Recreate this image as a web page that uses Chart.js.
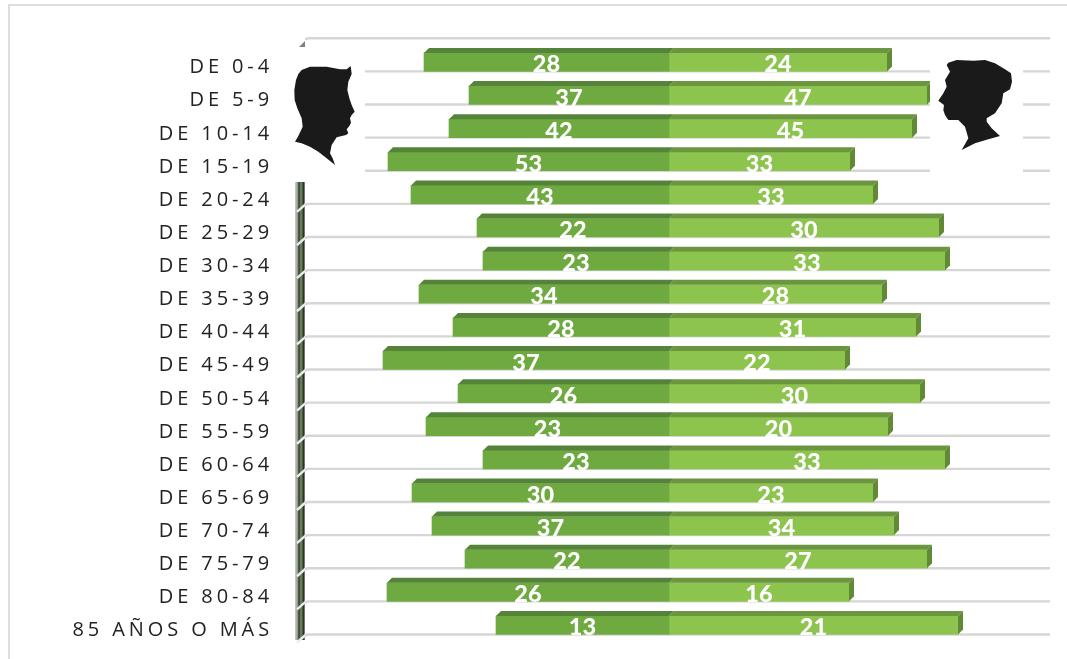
<!DOCTYPE html>
<html>
<head>
<meta charset="utf-8">
<style>
  html, body { margin: 0; padding: 0; background: #fff; }
  canvas { display: block; }
</style>
<script src="https://cdn.jsdelivr.net/npm/chart.js@4/dist/chart.umd.min.js"></script>
</head>
<body>
<canvas id="piramide" width="1067" height="659"></canvas>
<script>
var categorias = ['DE 0-4', 'DE 5-9', 'DE 10-14', 'DE 15-19', 'DE 20-24', 'DE 25-29', 'DE 30-34', 'DE 35-39', 'DE 40-44',
    'DE 45-49', 'DE 50-54', 'DE 55-59', 'DE 60-64', 'DE 65-69', 'DE 70-74', 'DE 75-79', 'DE 80-84', '85 AÑOS O MÁS'];

// largo de cada barra tal como se ve en el dibujo (no coincide con las etiquetas)
var hombres = [49, 40, 44, 56.2, 51.6, 38.4, 37.2, 50, 43.2, 57.2, 42.2, 48.6, 37.2, 51.4, 47.4, 40.8, 56.4, 34.6];
var mujeres = [43.6, 51.6, 48.6, 36.2, 40.8, 54, 55.2, 42.6, 49.4, 35.2, 50.2, 43.8, 55.2, 40.8, 45, 51.6, 36, 57.8];

// numeros escritos sobre las barras
var etiquetasHombres = [28, 37, 42, 53, 43, 22, 23, 34, 28, 37, 26, 23, 23, 30, 37, 22, 26, 13];
var etiquetasMujeres = [24, 47, 45, 33, 33, 30, 33, 28, 31, 22, 30, 20, 33, 23, 34, 27, 16, 21];

// siluetas, calcadas del original (zoom x3)
var siluetaHombre = [[35,60],[60,50],[110,50],[150,58],[170,58],[182,48],[185,72],[175,95],[172,120],[178,145],[185,165],[194,185],
    [185,195],[180,205],[183,218],[178,228],[170,238],[175,250],[168,255],[140,262],[125,285],[120,310],[128,325],[135,345],[110,325],
    [85,305],[60,290],[35,280],[15,275],[25,258],[38,230],[35,205],[22,175],[14,150],[13,120],[18,90],[25,72]];
var siluetaMujer = [[55,38],[80,30],[130,32],[165,30],[195,40],[225,58],[243,70],[246,95],[240,118],[220,130],[215,160],[195,190],
    [170,205],[170,215],[185,235],[210,258],[175,268],[135,280],[95,300],[115,265],[105,230],[85,210],[55,210],[45,195],[40,180],
    [42,165],[25,152],[40,130],[50,110],[45,90],[60,65],[50,45]];

var FONDO = 5; // profundidad del efecto 3D

function poligono(ctx, puntos, color) {
    ctx.fillStyle = color;
    ctx.beginPath();
    puntos.forEach(function (p, i) {
        if (i === 0) ctx.moveTo(p[0], p[1]); else ctx.lineTo(p[0], p[1]);
    });
    ctx.closePath();
    ctx.fill();
}

function silueta(ctx, puntos, x, y) {
    ctx.save();
    ctx.translate(x, y);
    ctx.scale(1 / 3, 1 / 3);
    poligono(ctx, puntos, '#1b1a1a');
    ctx.restore();
}

function pieDeBarra(chart, i) {
    var el = chart.getDatasetMeta(0).data[i];
    return el.y + el.height / 2;
}

var decoracion = {
    id: 'decoracion',
    beforeDraw: function (chart) {
        var ctx = chart.ctx;
        ctx.save();
        ctx.fillStyle = '#dedede';
        ctx.fillRect(8, 4, 1059, 2);
        ctx.fillRect(8, 4, 2, 655);
        ctx.restore();
        ctx.letterSpacing = '3.9px';
    },
    beforeDatasetsDraw: function (chart) {
        var ctx = chart.ctx, area = chart.chartArea;
        ctx.letterSpacing = '0px';
        ctx.save();
        var alto = chart.getDatasetMeta(0).data[1].y - chart.getDatasetMeta(0).data[0].y;
        var pisos = [pieDeBarra(chart, 0) - alto].concat(categorias.map(function (c, i) { return pieDeBarra(chart, i); }));

        // pared izquierda
        var grad = ctx.createLinearGradient(294, 0, 306, 0);
        grad.addColorStop(0, '#e2e2e2');
        grad.addColorStop(0.28, '#9aa095');
        grad.addColorStop(0.42, '#2c3a24');
        grad.addColorStop(0.58, '#76936a');
        grad.addColorStop(0.8, '#263020');
        grad.addColorStop(1, '#eeeeee');
        ctx.fillStyle = grad;
        ctx.fillRect(295, 182, 10, 458);
        poligono(ctx, [[299, 47], [305, 41], [305, 47]], '#7c8276');

        ctx.lineWidth = 2.4;
        pisos.forEach(function (y, i) {
            if (i > 4) {
                ctx.strokeStyle = '#ececec';
                ctx.beginPath();
                ctx.moveTo(297, y + 8);
                ctx.lineTo(306, y);
                ctx.stroke();
            }
            ctx.strokeStyle = '#d6d6d6';
            ctx.beginPath();
            ctx.moveTo(305, y + 1);
            ctx.lineTo(308, y);
            ctx.lineTo(area.right + 1, y);
            ctx.stroke();
        });
        ctx.restore();
    },
    afterDatasetsDraw: function (chart) {
        var ctx = chart.ctx;
        ctx.save();
        // caras superior y lateral de cada barra
        var metaM = chart.getDatasetMeta(1), metaH = chart.getDatasetMeta(0);
        metaM.data.forEach(function (el) {
            var t = el.y - el.height / 2, b = el.y + el.height / 2, r = el.x, l = el.base;
            poligono(ctx, [[l, t], [l + FONDO, t - FONDO], [r + FONDO, t - FONDO], [r, t]], '#6b953f');
            poligono(ctx, [[r, t], [r + FONDO, t - FONDO], [r + FONDO, b - FONDO], [r, b]], '#628a36');
        });
        metaH.data.forEach(function (el) {
            var t = el.y - el.height / 2, l = el.x, r = el.base;
            poligono(ctx, [[l, t], [l + FONDO, t - FONDO], [r + FONDO, t - FONDO], [r, t]], '#55833a');
        });

        // recuadros blancos de las imagenes
        ctx.fillStyle = '#fff';
        ctx.fillRect(294, 47, 71, 134);
        ctx.fillRect(930, 40, 93, 132);
        silueta(ctx, siluetaHombre, 290, 50);
        silueta(ctx, siluetaMujer, 930, 50);

        // numeros centrados en cada barra
        ctx.fillStyle = '#fff';
        ctx.font = '900 23.5px Lato';
        ctx.textAlign = 'center';
        ctx.textBaseline = 'alphabetic';
        metaH.data.forEach(function (el, i) {
            ctx.fillText(etiquetasHombres[i], (el.x + el.base) / 2, el.y + el.height / 2 + 1);
        });
        metaM.data.forEach(function (el, i) {
            ctx.fillText(etiquetasMujeres[i], (el.x + el.base) / 2, el.y + el.height / 2 + 1);
        });
        ctx.restore();
    }
};

var chart = new Chart(document.getElementById('piramide'), {
    type: 'bar',
    plugins: [decoracion],
    data: {
        labels: categorias,
        datasets: [{
            label: 'Hombres',
            data: hombres.map(function (v) { return -v; }),
            backgroundColor: '#6eaa40',
            barThickness: 18.5
        }, {
            label: 'Mujeres',
            data: mujeres,
            backgroundColor: '#8dc44e',
            barThickness: 18.5
        }]
    },
    options: {
        indexAxis: 'y',
        responsive: false,
        animation: false,
        layout: { padding: { top: 45.6, bottom: 17.2, right: 18, left: 0 } },
        plugins: { legend: { display: false }, tooltip: { enabled: false } },
        scales: {
            x: { display: false, stacked: true, min: -74, max: 76 },
            y: {
                stacked: true,
                afterFit: function (scale) {
                    scale.width = 299;
                    scale.paddingTop = 0;
                    scale.paddingBottom = 0;
                },
                grid: { display: false, drawTicks: false },
                border: { display: false },
                ticks: {
                    autoSkip: false,
                    color: '#222222',
                    padding: 26,
                    labelOffset: 5.5,
                    font: { family: 'Open Sans', size: 20 }
                }
            }
        }
    }
});
</script>
</body>
</html>
